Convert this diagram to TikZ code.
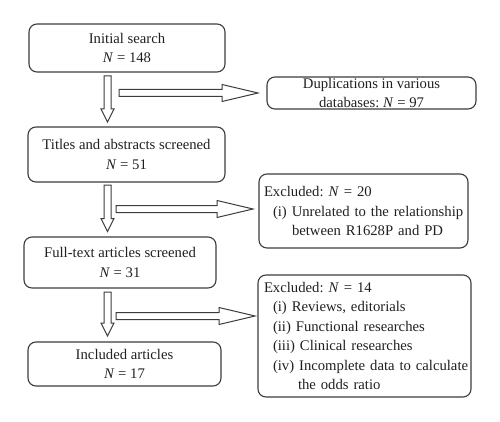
\documentclass[tikz,border=0pt]{standalone}
\usepackage{fontspec}
\setmainfont{Liberation Serif}
\usetikzlibrary{calc}
\definecolor{boxgray}{HTML}{3C3C3C}
\definecolor{textgray}{HTML}{231F20}
\tikzset{
    box/.style={draw=boxgray, line width=1.1pt, rounded corners=8pt, inner sep=0pt,
        align=center, text=textgray, font=\fontsize{14.7}{19.5}\selectfont\frenchspacing},
    exclbox/.style={box, align=left, inner xsep=5pt},
    fatline/.style={draw=boxgray, line width=1pt, line join=miter}
}
% hollow arrow pointing down, from #1 to #2
\newcommand{\vfat}[2]{\draw [fatline] ($(#1)+(-3.5,0)$) -- ($(#2)+(-3.5,13)$) -- ($(#2)+(-6.5,13)$) -- (#2)
    -- ($(#2)+(6.5,13)$) -- ($(#2)+(3.5,13)$) -- ($(#1)+(3.5,0)$) -- cycle;}
% hollow arrow pointing right, from #1 to #2
\newcommand{\hfat}[2]{\draw [fatline] ($(#1)+(0,-3.5)$) -- ($(#2)+(-36,-3.5)$) -- ($(#2)+(-36,-8.5)$) -- (#2)
    -- ($(#2)+(-36,8.5)$) -- ($(#2)+(-36,3.5)$) -- ($(#1)+(0,3.5)$) -- cycle;}
\begin{document}
\begin{tikzpicture}[x=1pt,y=1pt]
                \useasboundingbox (0,0) rectangle (500,421);
                \node [box, minimum width=196pt, minimum height=48pt] (init) at (127,373) {Initial search\\\textit{N} = 148};
                \node [box, minimum width=209pt, minimum height=32pt] (dup) at (371.5,328) {Duplications in various\\databases: \textit{N} = 97};
                \node [box, minimum width=197pt, minimum height=55pt] (titles) at (126.5,266.5) {Titles and abstracts screened\\\textit{N} = 51};
                \node [exclbox, text width=199pt, minimum height=74pt] (exclrel) at (363.5,210) {\mbox{Excluded: \textit{N} = 20}\\\mbox{\hspace*{9pt}(i) Unrelated to the relationship}\\\mbox{\hspace*{28pt}between R1628P and PD}};
                \node [box, minimum width=192pt, minimum height=51pt] (full) at (120,158.5) {Full-text articles screened\\\textit{N} = 31};
                \node [exclbox, inner xsep=6pt, text width=201pt, minimum height=122pt] (exclfull) at (364.5,85) {\mbox{Excluded: \textit{N} = 14}\\\mbox{\hspace*{9pt}(i) Reviews, editorials}\\\mbox{\hspace*{9pt}(ii) Functional researches}\\\mbox{\hspace*{9pt}(iii) Clinical researches}\\\mbox{\hspace*{9pt}(iv) Incomplete data to calculate}\\\mbox{\hspace*{34pt}the odds ratio}};
                \node [box, minimum width=193pt, minimum height=44pt] (incl) at (124.5,57) {Included articles\\\textit{N} = 17};
                \coordinate (dtop) at (107.5,345);
                \coordinate (dtip) at (107.5,299);
                \coordinate (ttop) at (107.5,236);
                \coordinate (ttip) at (107.5,189.5);
                \coordinate (ftop) at (107.5,129);
                \coordinate (ftip) at (107.5,85);
                \coordinate (dbase) at (119,328);
                \coordinate (dend) at (258,328);
                \coordinate (tbase) at (116,212);
                \coordinate (tend) at (253,212);
                \coordinate (fbase) at (116,105);
                \coordinate (fend) at (255,105);
                \vfat{dtop}{dtip}
                \vfat{ttop}{ttip}
                \vfat{ftop}{ftip}
                \hfat{dbase}{dend}
                \hfat{tbase}{tend}
                \hfat{fbase}{fend}
            \end{tikzpicture}
\end{document}
